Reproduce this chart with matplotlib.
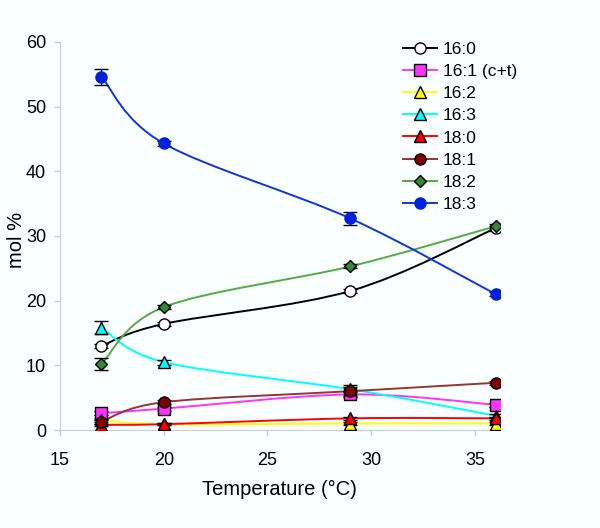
import matplotlib; matplotlib.use("Agg")
import matplotlib.pyplot as plt
from matplotlib.path import Path
from matplotlib.patches import PathPatch
from matplotlib.lines import Line2D
import numpy as np

plt.rcParams['font.family'] = ['Liberation Sans', 'DejaVu Sans']

# Data
temps = [17, 20, 29, 36]
labels = ['16:0', '16:1 (c+t)', '16:2', '16:3', '18:0', '18:1', '18:2', '18:3']
v_160 = [13.0, 16.4, 21.5, 31.2]
v_161 = [2.6, 3.3, 5.5, 3.9]
v_162 = [1.5, 0.9, 1.0, 1.0]
v_163 = [15.8, 10.5, 6.3, 2.2]
v_180 = [0.8, 0.9, 1.8, 1.8]
v_181 = [1.3, 4.3, 6.0, 7.3]
v_182 = [10.2, 19.0, 25.3, 31.5]
v_183 = [54.6, 44.3, 32.7, 21.0]
e_160 = [0.3, 0.3, 0.3, 0.4]
e_161 = [0.3, 0.3, 0.3, 0.3]
e_162 = [0.2, 0.2, 0.2, 0.2]
e_163 = [1.0, 0.4, 0.3, 0.3]
e_180 = [0.2, 0.2, 0.2, 0.2]
e_181 = [0.3, 0.3, 0.9, 0.3]
e_182 = [1.0, 0.3, 0.3, 0.4]
e_183 = [1.2, 0.4, 1.0, 0.3]

values = [v_160, v_161, v_162, v_163, v_180, v_181, v_182, v_183]
errors = [e_160, e_161, e_162, e_163, e_180, e_181, e_182, e_183]

# Styles: line colour, marker, face colour, edge colour, marker size
styles = [
    ('#000000', 'o', '#FFFFFF', '#000000', 8),
    ('#FF33FF', 's', '#FF33FF', '#000000', 8),
    ('#FFFF00', '^', '#FFFF00', '#000000', 8),
    ('#00FFFF', '^', '#00FFFF', '#000000', 8),
    ('#FF0000', '^', '#FF0000', '#000000', 8),
    ('#993333', 'o', '#800000', '#000000', 8),
    ('#55AA44', 'D', '#338833', '#000000', 6),
    ('#1133DD', 'o', '#0022DD', '#0022DD', 8),
]


def smooth_path(xs, ys):
    # Catmull-Rom style Bezier like the smoothed lines of a spreadsheet chart
    pts = np.column_stack([xs, ys]).astype(float)
    n = len(pts)
    verts = [pts[0]]
    codes = [Path.MOVETO]
    for i in range(n - 1):
        p0 = pts[i - 1] if i > 0 else pts[i]
        p1 = pts[i]
        p2 = pts[i + 1]
        p3 = pts[i + 2] if i + 2 < n else pts[i + 1]
        c1 = p1 + (p2 - p0) / 6.0
        c2 = p2 - (p3 - p1) / 6.0
        verts += [c1, c2, p2]
        codes += [Path.CURVE4] * 3
    return Path(verts, codes)


fig = plt.figure(figsize=(6, 5.28), dpi=100, facecolor='#FAFFFF')
ax = fig.add_axes([0.1, 0.1856, 0.733, 0.735])
ax.set_facecolor('#FAFFFF')

handles = []
for vals, errs, lab, (lc, mk, fc, ec, ms) in zip(values, errors, labels, styles):
    ax.add_patch(PathPatch(smooth_path(temps, vals), facecolor='none',
                           edgecolor=lc, linewidth=1.4, zorder=2))
    ax.errorbar(temps, vals, yerr=errs, fmt='none', ecolor='#000000',
                elinewidth=1.0, capsize=5, capthick=1.0, zorder=3)
    ax.plot(temps, vals, linestyle='none', marker=mk, markersize=ms,
            markerfacecolor=fc, markeredgecolor=ec, markeredgewidth=1.0, zorder=4)
    handles.append(Line2D([], [], color=lc, linewidth=1.4, marker=mk,
                          markersize=ms, markerfacecolor=fc,
                          markeredgecolor=ec, markeredgewidth=1.0, label=lab))

ax.set_xlim(15, 36.2)
ax.set_ylim(0, 60)
ax.set_xticks([15, 20, 25, 30, 35])
ax.set_yticks([0, 10, 20, 30, 40, 50, 60])
ax.tick_params(axis='both', labelsize=13, color='#CCCCCC', length=4, width=1)
ax.tick_params(axis='x', pad=12)
ax.tick_params(axis='y', pad=6)
ax.spines['top'].set_visible(False)
ax.spines['right'].set_visible(False)
ax.spines['left'].set_color('#CCCCCC')
ax.spines['bottom'].set_color('#CCCCCC')

ax.set_xlabel('Temperature (°C)', fontsize=14.5, labelpad=8)
ax.set_ylabel('mol %', fontsize=14.5)
ax.yaxis.set_label_coords(-0.078, 0.49)

fig.legend(handles=handles, loc='upper left', bbox_to_anchor=(0.645, 0.95),
           frameon=False, fontsize=12.5, handlelength=2.0, labelspacing=0.4,
           handletextpad=0.3)

plt.savefig("out.png", dpi=100, facecolor=fig.get_facecolor())
